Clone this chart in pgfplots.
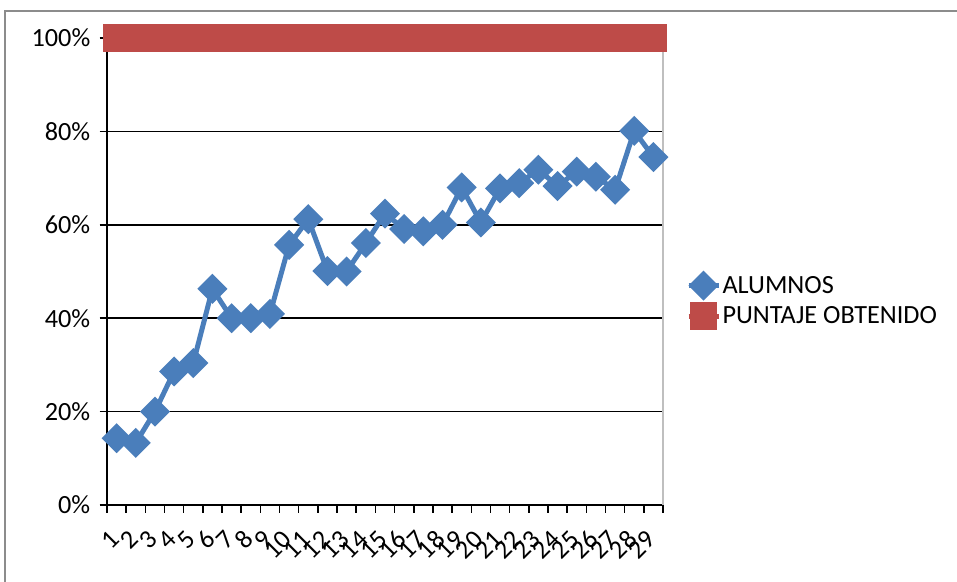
\documentclass[border=0pt]{standalone}
\usepackage{pgfplots}
\pgfplotsset{compat=1.18}
\usepackage{fontspec}
\setmainfont{Carlito}
\definecolor{xlblue}{HTML}{4A7EBB}
\definecolor{xlred}{HTML}{BE4B48}
\begin{document}
\fontsize{10.5}{12.6}\selectfont
\begin{tikzpicture}
\useasboundingbox (0,0) rectangle (382.8pt,232.8pt);
\draw[black!45, line width=0.5pt] (2pt,0pt) -- (2pt,228.4pt) -- (382.8pt,228.4pt);
\begin{axis}[
  at={(42.8pt,30.8pt)}, anchor=south west,
  scale only axis, width=222.4pt, height=186.8pt,
  xmin=0.5, xmax=29.5, ymin=0, ymax=100,
  clip=false,
  axis x line*=bottom, axis y line*=left,
  axis line style={black, line width=0.6pt},
  xtick={0.5,1.5,...,29.5},
  xticklabels={1,2,3,4,5,6,7,8,9,10,11,12,13,14,15,16,17,18,19,20,21,22,23,24,25,26,27,28,29},
  x tick label as interval,
  ytick={0,20,...,100},
  yticklabel={\pgfmathprintnumber{\tick}\%},
  /pgf/number format/assume math mode=true,
  tick align=outside,
  major tick length=3pt,
  tick style={black, line width=0.6pt},
  ymajorgrids, grid style={black, line width=0.7pt},
  xticklabel style={yshift=-6.5pt, xshift=1.8pt, rotate=45, anchor=east, font=\fontsize{10.5}{12}\selectfont},
  yticklabel style={font=\fontsize{10.5}{12}\selectfont},
  legend style={at={(rel axis cs:1.027,0.437)}, anchor=west, draw=none, fill=none,
    font=\fontsize{10.5}{12}\selectfont,
    nodes={inner sep=0.6pt, text height=8pt, text depth=2pt}, row sep=1pt},
  legend cell align=left,
  legend image code/.code={\draw[mark repeat=2,mark phase=2,#1] plot coordinates {(0pt,0pt)(6pt,0pt)(12pt,0pt)};},
]
\draw[black!25, line width=0.6pt] (rel axis cs:1,0) -- (rel axis cs:1,1);
\addplot[xlblue, line width=2pt, mark=square*, mark size=3.25pt, mark options={rotate=45, solid}] coordinates {
(1,14.3)(2,13.3)(3,20)(4,28.6)(5,30.4)(6,46.3)(7,40)(8,40)(9,40.9)(10,55.7)
(11,61.2)(12,50.1)(13,50)(14,56.1)(15,62.4)(16,59.1)(17,58.6)(18,60)(19,68)(20,60.5)
(21,67.8)(22,68.9)(23,71.8)(24,68.3)(25,71.4)(26,70.3)(27,67.5)(28,80.1)(29,74.5)};
\addlegendentry{ALUMNOS}
\addplot[xlred, line width=2pt, mark=square*, mark size=4.5pt, mark options={solid}] coordinates {
(1,100)(2,100)(3,100)(4,100)(5,100)(6,100)(7,100)(8,100)(9,100)(10,100)
(11,100)(12,100)(13,100)(14,100)(15,100)(16,100)(17,100)(18,100)(19,100)(20,100)
(21,100)(22,100)(23,100)(24,100)(25,100)(26,100)(27,100)(28,100)(29,100)};
\addlegendentry{PUNTAJE OBTENIDO}
\end{axis}
\end{tikzpicture}
\end{document}
